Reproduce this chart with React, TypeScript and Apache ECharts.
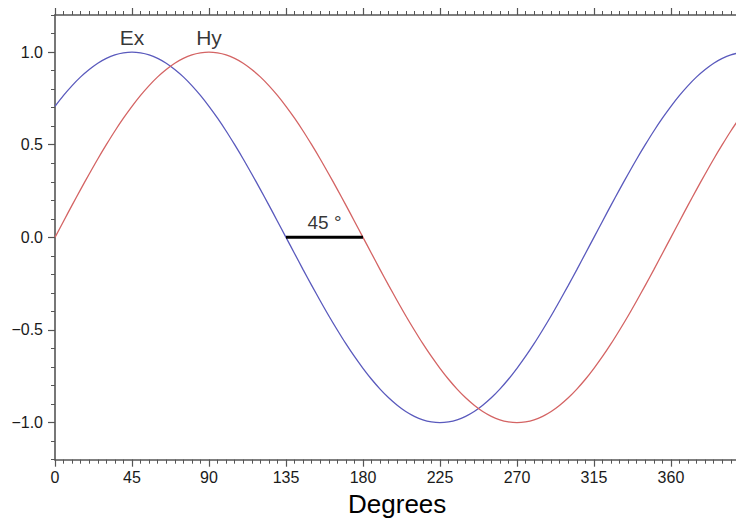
import React, { useEffect, useRef } from "react";
import * as echarts from "echarts";

const degrees = [
  0, 5, 10, 15, 20, 25, 30, 35, 40,
  45, 50, 55, 60, 65, 70, 75, 80, 85,
  90, 95, 100, 105, 110, 115, 120, 125, 130,
  135, 140, 145, 150, 155, 160, 165, 170, 175,
  180, 185, 190, 195, 200, 205, 210, 215, 220,
  225, 230, 235, 240, 245, 250, 255, 260, 265,
  270, 275, 280, 285, 290, 295, 300, 305, 310,
  315, 320, 325, 330, 335, 340, 345, 350, 355,
  360, 365, 370, 375, 380, 385, 390, 395, 400,
];
const exValues = [
  0.707, 0.766, 0.819, 0.866, 0.906, 0.94, 0.966, 0.985, 0.996,
  1.0, 0.996, 0.985, 0.966, 0.94, 0.906, 0.866, 0.819, 0.766,
  0.707, 0.643, 0.574, 0.5, 0.423, 0.342, 0.259, 0.174, 0.087,
  0.0, -0.087, -0.174, -0.259, -0.342, -0.423, -0.5, -0.574, -0.643,
  -0.707, -0.766, -0.819, -0.866, -0.906, -0.94, -0.966, -0.985, -0.996,
  -1.0, -0.996, -0.985, -0.966, -0.94, -0.906, -0.866, -0.819, -0.766,
  -0.707, -0.643, -0.574, -0.5, -0.423, -0.342, -0.259, -0.174, -0.087,
  0.0, 0.087, 0.174, 0.259, 0.342, 0.423, 0.5, 0.574, 0.643,
  0.707, 0.766, 0.819, 0.866, 0.906, 0.94, 0.966, 0.985, 0.996,
];
const hyValues = [
  0.0, 0.087, 0.174, 0.259, 0.342, 0.423, 0.5, 0.574, 0.643,
  0.707, 0.766, 0.819, 0.866, 0.906, 0.94, 0.966, 0.985, 0.996,
  1.0, 0.996, 0.985, 0.966, 0.94, 0.906, 0.866, 0.819, 0.766,
  0.707, 0.643, 0.574, 0.5, 0.423, 0.342, 0.259, 0.174, 0.087,
  0.0, -0.087, -0.174, -0.259, -0.342, -0.423, -0.5, -0.574, -0.643,
  -0.707, -0.766, -0.819, -0.866, -0.906, -0.94, -0.966, -0.985, -0.996,
  -1.0, -0.996, -0.985, -0.966, -0.94, -0.906, -0.866, -0.819, -0.766,
  -0.707, -0.643, -0.574, -0.5, -0.423, -0.342, -0.259, -0.174, -0.087,
  0.0, 0.087, 0.174, 0.259, 0.342, 0.423, 0.5, 0.574, 0.643,
];
const seriesLabels = [
  { name: "Ex", x: 45, y: 1.0 },
  { name: "Hy", x: 90, y: 1.0 },
];
const phaseStart = 135;
const phaseEnd = 180;
const phaseLabel = "45 °";

const FONT = "Liberation Sans, Arial, Helvetica, sans-serif";
const AXIS_COLOR = "#555";

export default function App() {
  const ref = useRef<HTMLDivElement>(null);
  useEffect(() => {
    if (!ref.current) return;
    const chart = echarts.init(ref.current, null, { renderer: "svg" });
    const gridLeft = 55;
    const gridTop = 15;
    const gridWidth = 684.4;
    const gridHeight = 444.7;
    const unit = gridHeight / 2.4;
    const minorLine = { show: true, onZero: false, lineStyle: { color: AXIS_COLOR, width: 1.6 } };
    chart.setOption({
      animation: false,
      textStyle: { fontFamily: FONT },
      grid: [
        { left: gridLeft, top: gridTop, width: gridWidth, height: gridHeight, containLabel: false },
        { left: gridLeft, top: gridTop + 0.2 * unit, width: gridWidth, height: 2 * unit, containLabel: false },
      ],
      xAxis: [
        {
          type: "value", gridIndex: 0, position: "bottom", min: 0, max: 400, interval: 5,
          axisLine: minorLine,
          axisTick: { show: true, length: 4, lineStyle: { color: AXIS_COLOR, width: 1 } },
          axisLabel: { show: false }, splitLine: { show: false },
        },
        {
          type: "value", gridIndex: 0, position: "bottom", min: 0, max: 400, interval: 45,
          axisLine: { show: false, onZero: false },
          axisTick: { show: true, length: 7, lineStyle: { color: AXIS_COLOR, width: 1.2 } },
          axisLabel: { show: true, margin: 10, fontSize: 16, color: "#1a1a1a", fontFamily: FONT, showMaxLabel: false },
          splitLine: { show: false },
          name: "Degrees", nameLocation: "middle", nameGap: 30,
          nameTextStyle: { fontSize: 26, color: "#000", fontFamily: FONT },
        },
        {
          type: "value", gridIndex: 0, position: "top", min: 0, max: 400, interval: 5,
          axisLine: minorLine,
          axisTick: { show: true, length: 4, lineStyle: { color: AXIS_COLOR, width: 1 } },
          axisLabel: { show: false }, splitLine: { show: false },
        },
        {
          type: "value", gridIndex: 0, position: "top", min: 0, max: 400, interval: 45,
          axisLine: { show: false, onZero: false },
          axisTick: { show: true, length: 7, lineStyle: { color: AXIS_COLOR, width: 1.2 } },
          axisLabel: { show: false }, splitLine: { show: false },
        },
        { type: "value", gridIndex: 1, min: 0, max: 400, show: false },
      ],
      yAxis: [
        {
          type: "value", gridIndex: 0, min: -1.2, max: 1.2, interval: 0.1,
          axisLine: minorLine,
          axisTick: { show: true, length: 4, lineStyle: { color: AXIS_COLOR, width: 1 } },
          axisLabel: { show: false }, splitLine: { show: false },
        },
        {
          type: "value", gridIndex: 1, min: -1, max: 1, interval: 0.5,
          axisLine: { show: false, onZero: false },
          axisTick: { show: true, length: 7, lineStyle: { color: AXIS_COLOR, width: 1.2 } },
          axisLabel: {
            show: true, margin: 12, fontSize: 16, color: "#1a1a1a", fontFamily: FONT,
            formatter: (v: number) => (v < 0 ? "\u2212" + Math.abs(v).toFixed(1) : v.toFixed(1)),
          },
          splitLine: { show: false },
        },
      ],
      series: [
        {
          name: "Ex", type: "line", xAxisIndex: 0, yAxisIndex: 0, smooth: 0.3, showSymbol: false,
          data: degrees.map((d, i) => [d, exValues[i]]),
          lineStyle: { color: "#5a5abd", width: 1.3 }, itemStyle: { color: "#5a5abd" },
        },
        {
          name: "Hy", type: "line", xAxisIndex: 0, yAxisIndex: 0, smooth: 0.3, showSymbol: false,
          data: degrees.map((d, i) => [d, hyValues[i]]),
          lineStyle: { color: "#d46464", width: 1.3 }, itemStyle: { color: "#d46464" },
        },
        {
          name: "phase", type: "line", xAxisIndex: 0, yAxisIndex: 0, showSymbol: false,
          data: [[phaseStart, 0], [phaseEnd, 0]],
          lineStyle: { color: "#000", width: 3 }, itemStyle: { color: "#000" },
        },
        {
          name: "labels", type: "scatter", xAxisIndex: 0, yAxisIndex: 0, symbolSize: 0,
          data: [
            ...seriesLabels.map((s) => ({ value: [s.x, s.y], label: { formatter: s.name, fontSize: 21, distance: 4 } })),
            { value: [(phaseStart + phaseEnd) / 2, 0], label: { formatter: phaseLabel, fontSize: 19, distance: 5 } },
          ],
          label: { show: true, position: "top", color: "#000", fontFamily: FONT },
          itemStyle: { color: "transparent" },
          silent: true,
        },
      ],
    });
    return () => chart.dispose();
  }, []);
  return (
    <div style={{ position: "fixed", left: 0, top: 0, width: 736, height: 522, overflow: "hidden", background: "#fff" }}>
      <div ref={ref} style={{ width: 760, height: 522 }} />
    </div>
  );
}
